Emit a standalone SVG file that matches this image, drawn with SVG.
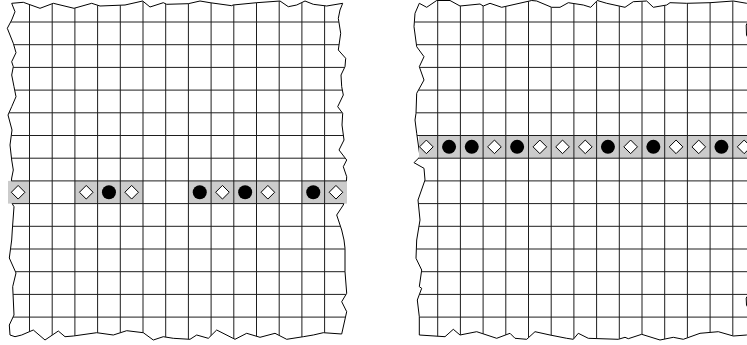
<svg xmlns="http://www.w3.org/2000/svg" xmlns:xlink="http://www.w3.org/1999/xlink" width="747" height="345" viewBox="0 0 747 345">
<style>
.paper{fill:#fff;stroke:#000;stroke-width:1;stroke-linejoin:miter}
.grid{fill:none;stroke:#1e1e1e;stroke-width:1}
.hl{fill:#cbcbcb}
.dia{fill:#fff;stroke:#000;stroke-width:1}
.dot{fill:#000}
</style>
<defs>
<path id="outlineL" d="M11.7,3.3 L23.3,2.3 L40,8.3 L53.3,3.3 L74,8.3 L91.7,3.3 L100,6 L125,5 L142.7,1 L150,7 L163.3,2.7 L166.7,4.3 L188.3,3.7 L200,1 L210,2.7 L231.7,5.7 L233,5 L256.7,2.7 L280,1 L288.3,6.7 L296.7,5 L305,1 L313.3,4.3 L326.7,6 L342.7,3.3 L340,10 L338.3,18.3 L340.7,33.3 L338.3,50 L345.7,58.3 L345,66.7 L341,75 L341.7,86.7 L343.3,95 L337.7,106.7 L342.7,113.3 L342,125 L344,140 L339,150 L346.7,160 L343.3,166.7 L346.7,176.7 L346,190 L345,200 L343.3,205 L336.7,215 L341.7,230 L344,240 L345,248.3 L345,271.7 L346.7,293.3 L341.7,301.7 L346.7,311.7 L341.7,334 L323.3,332.7 L313.3,335 L303.3,336.7 L286.7,339.3 L275,333.3 L260,337.3 L246.7,333.3 L235,339.3 L216.7,330 L208.3,338.3 L196.7,335 L190,339.3 L173.3,338.3 L163.3,336.7 L153.3,340 L143.3,332.7 L126.7,330.7 L113.3,335 L96.7,332.7 L73.3,336 L65,336.7 L58.3,331 L45,340 L33.3,330 L21.7,335 L15,336.7 L10,335 L9.3,325 L14,315 L12.7,286.7 L16,273 L9.3,258 L11.7,240 L12.3,230 L14,206.7 L10,200 L11,185 L11.7,178 L13.3,170 L11.7,160 L10,145 L12,130 L8,115 L11.7,106.7 L16,96.7 L14,86.7 L11.7,75 L13.3,66.7 L11.7,61.7 L16,52.7 L13.3,43.3 L7.3,28.3 L11.7,20 L15,11.7 Z"/>
<path id="outlineR" d="M415,13.3 L419.3,3.3 L426.7,7.3 L436.7,0.5 L450,0.5 L460,6 L480,4 L483.3,6 L490,3.3 L501.7,7.3 L531.7,0.5 L536.7,1 L551.7,7.3 L560,7.3 L568.3,2.7 L583.3,5 L590.7,7.3 L597.3,0.5 L606.7,3.3 L625,7.3 L633.3,1.7 L646.7,1 L653.3,7.3 L666.7,5 L670,2.7 L686.7,3.3 L710,2.7 L733.3,1 L746.7,3.3 L760,5 L752,15 L746.2,25 L746.5,35 L752,45 L760,150 L752,290 L746.2,298 L746.5,305 L752,315 L760,340 L746.7,335 L733.3,336 L718.3,331.7 L700,333.3 L683.3,339.3 L673.3,337.3 L660,340 L641.7,334.3 L628.3,338.7 L625,337.3 L618.3,339.3 L588.3,338.3 L578.3,333.3 L573.3,339.3 L566.7,338.3 L550,335 L535,331.7 L526.7,339.3 L515,338.3 L510,333.3 L496.7,338.3 L476.7,331.7 L460,335 L453.3,329.3 L445,336.7 L419.3,335 L419.3,316.7 L417.3,300 L421.7,288.3 L419.3,286.7 L421.7,270 L416,258.3 L416.7,240 L420,220 L418,200 L425,180 L424,168.3 L414,162.7 L420,156.7 L416.7,133.3 L415,120 L416,113.3 L416.7,93.3 L424,80 L419.3,66.7 L424,56.7 L416.7,46.7 L414,26.7 Z"/>
<clipPath id="clipL"><use xlink:href="#outlineL"/></clipPath>
<clipPath id="clipR"><use xlink:href="#outlineR"/></clipPath>
<path id="d" class="dia" d="M-6.8,0 L0,-6.8 L6.8,0 L0,6.8 Z"/>
</defs>

<g id="panel-left">
<use xlink:href="#outlineL" class="paper"/>
<g id="highlight-left" class="hl">
<rect x="8" y="180.9" width="21.5" height="22.7"/>
<rect x="74.9" y="180.9" width="68.1" height="22.7"/>
<rect x="188.4" y="180.9" width="90.8" height="22.7"/>
<rect x="301.9" y="180.9" width="45.1" height="22.7"/>
</g>
<path id="grid-left" class="grid" clip-path="url(#clipL)" d="M29.5,0V345 M52.2,0V345 M74.9,0V345 M97.6,0V345 M120.3,0V345 M143,0V345 M165.7,0V345 M188.4,0V345 M211.1,0V345 M233.8,0V345 M256.5,0V345 M279.2,0V345 M301.9,0V345 M324.6,0V345 M0,22H350 M0,44.7H350 M0,67.4H350 M0,90.1H350 M0,112.8H350 M0,135.5H350 M0,158.2H350 M0,180.9H350 M0,203.6H350 M0,226.3H350 M0,249H350 M0,271.7H350 M0,294.4H350 M0,317.1H350"/>
<g id="markers-left">
<use xlink:href="#d" x="18.15" y="192.25"/>
<use xlink:href="#d" x="86.25" y="192.25"/>
<circle class="dot" cx="108.95" cy="192.25" r="7"/>
<use xlink:href="#d" x="131.65" y="192.25"/>
<circle class="dot" cx="199.75" cy="192.25" r="7"/>
<use xlink:href="#d" x="222.45" y="192.25"/>
<circle class="dot" cx="245.15" cy="192.25" r="7"/>
<use xlink:href="#d" x="267.85" y="192.25"/>
<circle class="dot" cx="313.25" cy="192.25" r="7"/>
<use xlink:href="#d" x="335.95" y="192.25"/>
</g>
</g>

<g id="panel-right">
<use xlink:href="#outlineR" class="paper"/>
<rect id="highlight-right" class="hl" x="419" y="135.5" width="330" height="22.7"/>
<path id="grid-right" class="grid" clip-path="url(#clipR)" d="M437.7,0V345 M460.4,0V345 M483.1,0V345 M505.8,0V345 M528.5,0V345 M551.2,0V345 M573.9,0V345 M596.6,0V345 M619.3,0V345 M642,0V345 M664.7,0V345 M687.4,0V345 M710.1,0V345 M732.8,0V345 M400,22H760 M400,44.7H760 M400,67.4H760 M400,90.1H760 M400,112.8H760 M400,135.5H760 M400,158.2H760 M400,180.9H760 M400,203.6H760 M400,226.3H760 M400,249H760 M400,271.7H760 M400,294.4H760 M400,317.1H760"/>
<g id="markers-right">
<use xlink:href="#d" x="426.35" y="146.85"/>
<circle class="dot" cx="449.05" cy="146.85" r="7"/>
<circle class="dot" cx="471.75" cy="146.85" r="7"/>
<use xlink:href="#d" x="494.45" y="146.85"/>
<circle class="dot" cx="517.15" cy="146.85" r="7"/>
<use xlink:href="#d" x="539.85" y="146.85"/>
<use xlink:href="#d" x="562.55" y="146.85"/>
<use xlink:href="#d" x="585.25" y="146.85"/>
<circle class="dot" cx="607.95" cy="146.85" r="7"/>
<use xlink:href="#d" x="630.65" y="146.85"/>
<circle class="dot" cx="653.35" cy="146.85" r="7"/>
<use xlink:href="#d" x="676.05" y="146.85"/>
<use xlink:href="#d" x="698.75" y="146.85"/>
<circle class="dot" cx="721.45" cy="146.85" r="7"/>
<use xlink:href="#d" x="744.15" y="146.85"/>
</g>
</g>
</svg>
